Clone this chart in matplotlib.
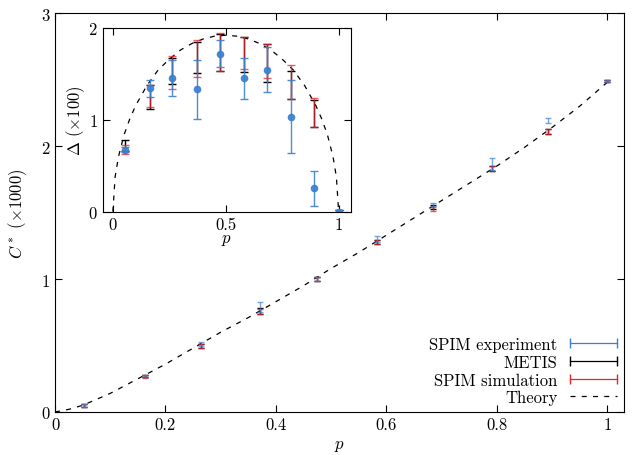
import numpy as np
import matplotlib
matplotlib.use("Agg")
import matplotlib.pyplot as plt
from matplotlib.lines import Line2D

plt.rcParams['font.family'] = 'serif'
plt.rcParams['font.serif'] = ['cmr10']
plt.rcParams['mathtext.fontset'] = 'cm'
plt.rcParams['axes.formatter.use_mathtext'] = True
plt.rcParams['font.size'] = 12

BLUE = '#3b80d0'
RED = '#e3262e'

# probabilities
p = [0.052, 0.163, 0.264, 0.372, 0.475, 0.583, 0.684, 0.791, 0.893, 1.0]

# main panel: C* (x1000)
c_exp = [0.05, 0.27, 0.51, 0.79, 1.00, 1.30, 1.56, 1.865, 2.193, 2.49]
c_exp_err = [0.01, 0.01, 0.015, 0.04, 0.015, 0.025, 0.013, 0.043, 0.02, 0.01]
c_metis = [0.05, 0.27, 0.50, 0.76, 1.00, 1.28, 1.54, 1.83, 2.11, 2.49]
c_metis_err = [0.01, 0.01, 0.015, 0.02, 0.015, 0.015, 0.015, 0.017, 0.017, 0.01]
c_sim = [0.05, 0.27, 0.50, 0.756, 1.00, 1.28, 1.53, 1.83, 2.108, 2.49]
c_sim_err = [0.01, 0.012, 0.015, 0.02, 0.015, 0.015, 0.015, 0.017, 0.017, 0.01]

c_theory_p = [0.0, 0.025, 0.05, 0.1, 0.15, 0.2, 0.25, 0.3, 0.35, 0.4, 0.45, 0.5,
              0.55, 0.6, 0.65, 0.7, 0.75, 0.8, 0.85, 0.9, 0.95, 1.0]
c_theory = [0.0, 0.02, 0.05, 0.14, 0.25, 0.36, 0.48, 0.60, 0.71, 0.83, 0.95, 1.08,
            1.20, 1.33, 1.46, 1.59, 1.72, 1.85, 1.99, 2.14, 2.30, 2.48]

# inset: Delta (x100)
d_exp = [0.675, 1.343, 1.456, 1.33, 1.72, 1.45, 1.546, 1.034, 0.255, 0.0]
d_exp_err = [0.03, 0.09, 0.2, 0.32, 0.15, 0.223, 0.246, 0.4, 0.19, 0.02]
d_metis = [0.72, 1.25, 1.53, 1.68, 1.73, 1.71, 1.615, 1.38, 1.07, 0.0]
d_metis_err = [0.06, 0.13, 0.14, 0.17, 0.2, 0.19, 0.205, 0.155, 0.15, 0.02]
d_sim = [0.68, 1.26, 1.51, 1.665, 1.735, 1.725, 1.64, 1.415, 1.08, 0.0]
d_sim_err = [0.05, 0.12, 0.18, 0.2, 0.205, 0.175, 0.18, 0.185, 0.16, 0.02]

d_theory_p = [0.0, 0.01, 0.025, 0.05, 0.075, 0.1, 0.15, 0.2, 0.25, 0.3, 0.35, 0.4, 0.45, 0.5,
              0.55, 0.6, 0.65, 0.7, 0.75, 0.8, 0.85, 0.9, 0.925, 0.95, 0.975, 0.99, 1.0]
d_theory = [0.0, 0.38, 0.60, 0.84, 1.01, 1.15, 1.37, 1.54, 1.66, 1.76, 1.83, 1.88, 1.91, 1.92,
            1.91, 1.88, 1.83, 1.76, 1.66, 1.54, 1.37, 1.15, 1.01, 0.84, 0.60, 0.38, 0.0]

fig = plt.figure(figsize=(6.34, 4.56), dpi=100)
ax = fig.add_axes([0.0868, 0.0943, 0.8972, 0.8747])

dash = (0, (4, 5))
ax.plot(c_theory_p, c_theory, color='black', lw=0.9, ls=dash, zorder=1)
ax.errorbar(p, c_metis, yerr=c_metis_err, fmt='none', ecolor='black', elinewidth=1, capsize=2.5, capthick=1)
ax.errorbar(p, c_sim, yerr=c_sim_err, fmt='none', ecolor=RED, elinewidth=1, capsize=2.5, capthick=1, alpha=0.75)
ax.errorbar(p, c_exp, yerr=c_exp_err, fmt='none', ecolor=BLUE, elinewidth=1, capsize=2.5, capthick=1, alpha=0.7)

ax.set_xlim(0, 1.03)
ax.set_ylim(0, 3)
ax.set_xticks([0, 0.2, 0.4, 0.6, 0.8, 1])
ax.set_xticklabels(['0', '0.2', '0.4', '0.6', '0.8', '1'])
ax.set_yticks([0, 1, 2, 3])
ax.tick_params(direction='in', top=True, right=True, length=5, width=0.8)
ax.set_xlabel('$p$', labelpad=4)
ax.set_ylabel(r'$C^*$ ($\times 1000$)', labelpad=8)

handles = [
    Line2D([], [], color=BLUE, lw=0.9, marker='|', markersize=7),
    Line2D([], [], color='black', lw=0.9, marker='|', markersize=7),
    Line2D([], [], color=RED, lw=0.9, marker='|', markersize=7),
    Line2D([], [], color='black', lw=0.9, ls=dash),
]
labels = ['SPIM experiment', 'METIS', 'SPIM simulation', 'Theory']
ax.legend(handles, labels, loc='lower right', bbox_to_anchor=(1.008, 0.0), frameon=False,
          markerfirst=False, numpoints=2, handlelength=3.4, handletextpad=0.45,
          labelspacing=0.15, borderaxespad=0, fontsize=12)

# inset
axi = fig.add_axes([0.162, 0.5336, 0.391, 0.403])
axi.plot(d_theory_p, d_theory, color='black', lw=0.9, ls=dash, zorder=1)
axi.errorbar(p, d_metis, yerr=d_metis_err, fmt='none', ecolor='black', elinewidth=1, capsize=3, capthick=1)
axi.errorbar(p, d_sim, yerr=d_sim_err, fmt='none', ecolor=RED, elinewidth=1, capsize=3, capthick=1, alpha=0.75)
axi.errorbar(p, d_exp, yerr=d_exp_err, fmt='o', color=BLUE, ms=4.5, ecolor=BLUE, elinewidth=1,
             capsize=3, capthick=1, alpha=0.9)
axi.set_xlim(-0.045, 1.053)
axi.set_ylim(0, 2)
axi.set_xticks([0, 0.5, 1])
axi.set_xticklabels(['0', '0.5', '1'])
axi.set_yticks([0, 1, 2])
axi.tick_params(direction='in', top=True, right=True, length=5, width=0.8)
axi.set_xlabel('$p$', labelpad=0)
axi.set_ylabel(r'$\Delta$ ($\times 100$)', labelpad=1)

fig.savefig('out.png', dpi=100)
